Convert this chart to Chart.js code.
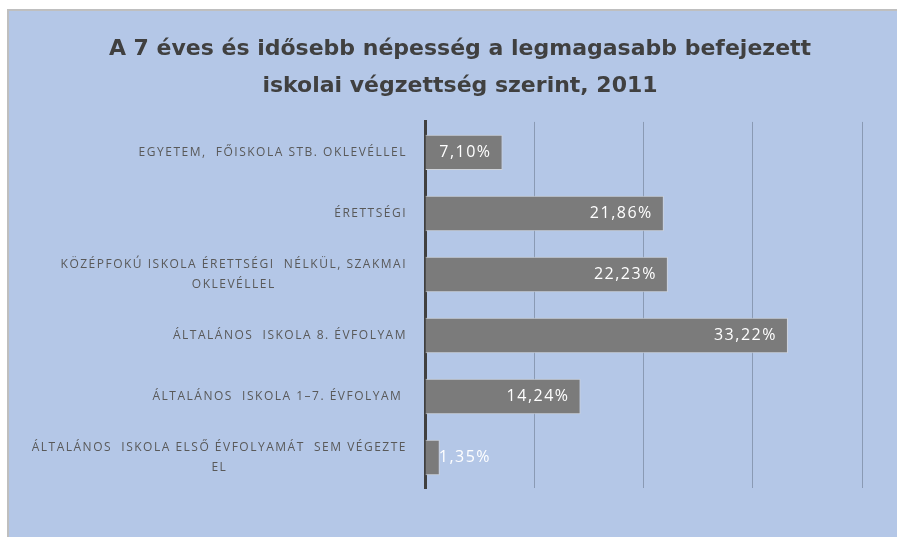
<!DOCTYPE html>
<html>
<head>
<meta charset="utf-8">
<script src="https://cdn.jsdelivr.net/npm/chart.js@4.4.0/dist/chart.umd.min.js"></script>
<style>
  html, body { margin: 0; padding: 0; background: #ffffff; overflow: hidden; }
  #wrap {
    position: absolute; left: 7px; top: 9px; right: -4px; bottom: -4px;
    border-left: 2px solid #bfbfbf; border-top: 2px solid #bfbfbf;
    background: #b4c7e7;
  }
  #wrap canvas { display: block; }
</style>
</head>
<body>
<div id="wrap"><canvas id="myChart"></canvas></div>
<script>
// chart data
const titleLines = ['A 7 éves és idősebb népesség a legmagasabb befejezett', 'iskolai végzettség szerint, 2011'];
const categories = [
    'EGYETEM,  FŐISKOLA STB. OKLEVÉLLEL',
    'ÉRETTSÉGI',
    ['KÖZÉPFOKÚ ISKOLA ÉRETTSÉGI  NÉLKÜL, SZAKMAI', 'OKLEVÉLLEL'],
    'ÁLTALÁNOS  ISKOLA 8. ÉVFOLYAM',
    'ÁLTALÁNOS  ISKOLA 1–7. ÉVFOLYAM ',
    ['ÁLTALÁNOS  ISKOLA ELSŐ ÉVFOLYAMÁT  SEM VÉGEZTE', 'EL']
];
const values = [7.10, 21.86, 22.23, 33.22, 14.24, 1.35];
const xTicks = [0, 10, 20, 30, 40];

const fmt = v => v.toFixed(2).replace('.', ',') + '%';

// category labels: right aligned block, lines centered inside the block
const catLabels = {
    id: 'catLabels',
    afterDraw(chart) {
        const c = chart.ctx;
        const yScale = chart.scales.y;
        const right = chart.chartArea.left - 18;
        c.save();
        c.font = '12px "Open Sans"';
        c.letterSpacing = '1.5px';
        c.fillStyle = '#595959';
        c.textBaseline = 'middle';
        c.textAlign = 'center';
        categories.forEach((lab, i) => {
            const lines = Array.isArray(lab) ? lab : [lab];
            const w = Math.max(...lines.map(l => c.measureText(l).width));
            const yc = yScale.getPixelForValue(i);
            const lh = 20;
            lines.forEach((l, j) => {
                c.fillText(l, right - w / 2, yc + (j - (lines.length - 1) / 2) * lh);
            });
        });
        c.restore();
    }
};

// value labels inside the end of the bars
const valueLabels = {
    id: 'valueLabels',
    afterDatasetsDraw(chart) {
        const c = chart.ctx;
        const meta = chart.getDatasetMeta(0);
        c.save();
        c.font = '16px "Open Sans"';
        c.letterSpacing = '1.5px';
        c.fillStyle = '#ffffff';
        c.textBaseline = 'middle';
        meta.data.forEach((bar, i) => {
            const txt = fmt(values[i]);
            const w = c.measureText(txt).width;
            if (bar.x - bar.base > w + 20) {
                c.textAlign = 'right';
                c.fillText(txt, bar.x - 11, bar.y);
            } else {
                c.textAlign = 'left';
                c.fillText(txt, bar.x - 1, bar.y);
            }
        });
        c.restore();
    }
};

const ctx = document.getElementById('myChart');
new Chart(ctx, {
    type: 'bar',
    data: {
        labels: categories,
        datasets: [{
            data: values,
            backgroundColor: '#7b7b7b',
            borderColor: '#cfd3da',
            borderWidth: 1,
            borderSkipped: 'start',
            barPercentage: 0.58,
            categoryPercentage: 1
        }]
    },
    options: {
        indexAxis: 'y',
        responsive: true,
        maintainAspectRatio: false,
        animation: false,
        layout: { padding: { left: 49, right: 39, top: 0, bottom: 0 } },
        scales: {
            x: {
                min: xTicks[0],
                max: xTicks[xTicks.length - 1],
                afterBuildTicks: axis => { axis.ticks = xTicks.map(v => ({ value: v })); },
                ticks: { display: false },
                border: { display: false },
                grid: {
                    drawTicks: false,
                    color: c => c.tick && c.tick.value === 0 ? 'rgba(0,0,0,0)' : '#8a9ab4',
                    lineWidth: 1
                },
                afterFit: axis => { axis.height = 53; }
            },
            y: {
                ticks: { display: false },
                grid: { display: false },
                border: { display: true, color: '#404040', width: 3 },
                afterFit: axis => { axis.width = 416 - 49; }
            }
        },
        plugins: {
            legend: { display: false },
            tooltip: { enabled: false },
            title: {
                display: true,
                text: titleLines,
                color: '#404040',
                font: { family: '"DejaVu Sans"', size: 22, weight: 'bold', lineHeight: 1.68 },
                padding: { top: 20, bottom: 17 }
            }
        }
    },
    plugins: [catLabels, valueLabels]
});
</script>
</body>
</html>
